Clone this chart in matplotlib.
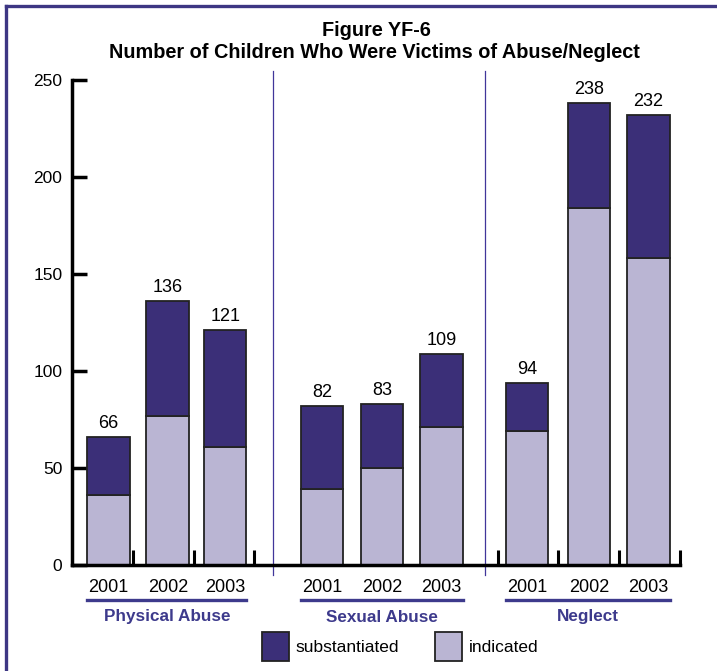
import matplotlib
matplotlib.use("Agg")
import matplotlib.pyplot as plt
from matplotlib.patches import Rectangle
from matplotlib.lines import Line2D
from matplotlib.transforms import blended_transform_factory
import numpy as np

plt.rcParams['font.family'] = ['Liberation Sans', 'DejaVu Sans']

# ---- data ----
groups = ['Physical Abuse', 'Sexual Abuse', 'Neglect']
years = ['2001', '2002', '2003']
totals = [66, 136, 121, 82, 83, 109, 94, 238, 232]
indicated = [36, 77, 61, 39, 50, 71, 69, 184, 158]
substantiated = [t - i for t, i in zip(totals, indicated)]
yticks = [0, 50, 100, 150, 200, 250]
title_lines = ['Figure YF-6', 'Number of Children Who Were Victims of Abuse/Neglect']
legend_labels = ['substantiated', 'indicated']

# ---- style ----
W, H = 717, 671
DARK = '#3b2f78'
LIGHT = '#bab5d3'
PURPLE = '#3d3a8c'

fig = plt.figure(figsize=(W / 100, H / 100), dpi=100)
fig.patch.set_facecolor('white')

def fx(px):
    return px / W

def fy(py):
    return 1 - py / H

ax_l, ax_r, ax_b, ax_t = 72, 680, 565, 80
ax = fig.add_axes([fx(ax_l), fy(ax_b), fx(ax_r - ax_l), fy(ax_t) - fy(ax_b)])
ax.set_xlim(0, 10)
ax.set_ylim(0, 250)
ax.set_axisbelow(True)

# bar layout (in axis units)
centers = np.array([0.60, 1.575, 2.52, 4.11, 5.10, 6.08, 7.48, 8.50, 9.48])
width = 0.70

ax.bar(centers, indicated, width, color=LIGHT, edgecolor='#222222', linewidth=1.3, zorder=2)
ax.bar(centers, substantiated, width, bottom=indicated, color=DARK,
       edgecolor='#222222', linewidth=1.3, zorder=2)

for c, t in zip(centers, totals):
    ax.text(c, t + 2.5, str(t), ha='center', va='bottom', fontsize=13, color='black')

# spines / ticks
for s in ['top', 'right']:
    ax.spines[s].set_visible(False)
for s in ['left', 'bottom']:
    ax.spines[s].set_linewidth(2.5)
    ax.spines[s].set_color('black')
    ax.spines[s].set_zorder(3)
ax.set_yticks(yticks)
ax.set_yticklabels([str(v) for v in yticks], fontsize=12.5)
ax.tick_params(axis='y', direction='in', length=11, width=2.5, pad=7)
ax.set_xticks(np.arange(1, 11))
ax.set_xticklabels([])
ax.tick_params(axis='x', direction='in', length=11, width=2.2)

# dividers
for xd in [3.30, 6.79]:
    ax.plot([xd, xd], [-5, 254.5], color='#40369a', linewidth=0.9, clip_on=False, zorder=1)

# year labels, underlines, group labels
bt = blended_transform_factory(ax.transData, fig.transFigure)
for g in range(3):
    cs = centers[3 * g:3 * g + 3]
    for c, yl in zip(cs, years):
        ax.text(c, fy(588), yl, transform=bt, ha='center', va='center', fontsize=13)
    x0 = cs[0] - width / 2
    x1 = cs[-1] + width / 2
    fig.add_artist(Line2D([x0, x1], [fy(600), fy(600)], transform=bt, color=PURPLE, linewidth=2.4))
    ax.text(cs.mean(), fy(617), groups[g], transform=bt, ha='center', va='center',
            fontsize=12.3, fontweight='bold', color=PURPLE)

# title
fig.text(fx(376), fy(30), title_lines[0], ha='center', va='center', fontsize=14.3, fontweight='bold')
fig.text(fx(374), fy(52), title_lines[1], ha='center', va='center', fontsize=14.3, fontweight='bold')

# legend
for (bx, tx, col, lab) in [(262, 295, DARK, legend_labels[0]), (435, 469, LIGHT, legend_labels[1])]:
    fig.add_artist(Rectangle((fx(bx), fy(661)), fx(27), fy(632) - fy(661), transform=fig.transFigure,
                             facecolor=col, edgecolor='#222222', linewidth=1.3))
    fig.text(fx(tx), fy(647), lab, ha='left', va='center', fontsize=12.5)

# border (left and top)
fig.add_artist(Line2D([fx(6), fx(6)], [0, fy(6)], color='#3d3683', linewidth=2.4))
fig.add_artist(Line2D([fx(6), 1], [fy(6), fy(6)], color='#3d3683', linewidth=2.4))

fig.savefig('out.png', dpi=100)
